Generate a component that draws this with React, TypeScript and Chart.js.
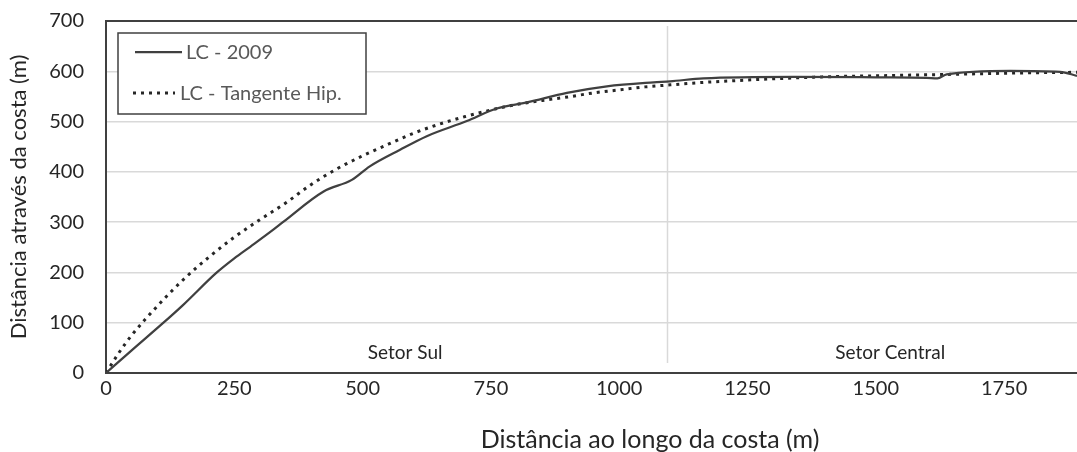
import React, { useEffect, useRef } from "react";
import { Chart, registerables } from "chart.js";

Chart.register(...registerables);

// LC - 2009 (solid)
const solidX = [0, 50, 112, 150, 216, 250, 281, 326, 346, 424, 479, 514, 573, 625, 703, 761, 820, 898, 976, 1067, 1099, 1164, 1340, 1500, 1599, 1620, 1638, 1762, 1859, 1892];
const solidY = [0, 45, 100, 135, 200, 228, 251, 285, 301, 361, 384, 411, 444, 471, 501, 526, 538, 557, 570, 578, 580, 586, 589, 588, 587, 586, 594, 601, 599, 591];

// LC - Tangente Hip. (dotted)
const dotX = [0, 25, 50, 100, 150, 200, 250, 300, 350, 400, 450, 500, 550, 600, 650, 700, 750, 800, 850, 900, 950, 1000, 1050, 1100, 1150, 1200, 1300, 1400, 1500, 1600, 1700, 1800, 1892];
const dotY = [0, 40, 75, 133, 185, 230, 270, 305, 338, 375, 406, 432, 455, 477, 495, 510, 523, 534, 542, 549, 557, 563, 569, 573, 577, 580, 585, 589, 591, 593, 595, 597, 598];

const seriesLabels = ["LC - 2009", "LC - Tangente Hip."];
const sectorNames = ["Setor Sul", "Setor Central"];
const sectorCenters = [583, 1528];
const sectorLabelY = 41;
const dividerX = 1093;
const dividerRange = [20, 690];

const xMin = 0;
const xMax = 1892;
const xStep = 250;
const yMin = 0;
const yMax = 700;
const yStep = 100;

const xTitle = "Distância ao longo da costa (m)";
const xTitleCenter = 1060; // axis value under the title's centre
const yTitle = "Distância através da costa (m)";

const FONT = "Lato, 'Open Sans', sans-serif";

export default function App() {
  const ref = useRef<HTMLCanvasElement | null>(null);

  useEffect(() => {
    document.body.style.margin = "0";
    const canvas = ref.current;
    if (!canvas) return;

    const overlay = {
      id: "overlay",
      beforeDatasetsDraw(chart: any) {
        const { ctx, scales, chartArea } = chart;
        const xs = scales.x;
        const ys = scales.y;
        ctx.save();
        const dx = Math.round(xs.getPixelForValue(dividerX)) + 0.5;
        ctx.strokeStyle = "#d9d9d9";
        ctx.lineWidth = 1.5;
        ctx.beginPath();
        ctx.moveTo(dx, ys.getPixelForValue(dividerRange[1]));
        ctx.lineTo(dx, ys.getPixelForValue(dividerRange[0]));
        ctx.stroke();
        ctx.fillStyle = "#262626";
        ctx.font = `19px ${FONT}`;
        ctx.textAlign = "center";
        ctx.textBaseline = "middle";
        sectorNames.forEach((n, i) => {
          ctx.fillText(n, xs.getPixelForValue(sectorCenters[i]), ys.getPixelForValue(sectorLabelY));
        });
        ctx.strokeStyle = "#404040";
        ctx.lineWidth = 2;
        ctx.beginPath();
        ctx.moveTo(chartArea.left, chartArea.top);
        ctx.lineTo(chartArea.right, chartArea.top);
        ctx.stroke();
        ctx.restore();
      },
      afterDraw(chart: any) {
        const { ctx, scales } = chart;
        ctx.save();
        // x-axis title
        ctx.fillStyle = "#262626";
        ctx.font = `25px ${FONT}`;
        ctx.textAlign = "center";
        ctx.textBaseline = "middle";
        ctx.fillText(xTitle, scales.x.getPixelForValue(xTitleCenter), scales.x.bottom - 12);
        // legend
        const bx = 118, by = 33, bw = 248, bh = 81;
        ctx.fillStyle = "#ffffff";
        ctx.fillRect(bx, by, bw, bh);
        ctx.strokeStyle = "#404040";
        ctx.lineWidth = 1.5;
        ctx.strokeRect(bx, by, bw, bh);
        ctx.strokeStyle = "#404040";
        ctx.lineWidth = 2.25;
        ctx.setLineDash([]);
        ctx.beginPath();
        ctx.moveTo(135, 52);
        ctx.lineTo(182, 52);
        ctx.stroke();
        ctx.strokeStyle = "#262626";
        ctx.lineWidth = 3;
        ctx.setLineDash([3, 5]);
        ctx.beginPath();
        ctx.moveTo(133, 93);
        ctx.lineTo(175, 93);
        ctx.stroke();
        ctx.setLineDash([]);
        ctx.fillStyle = "#595959";
        ctx.font = `20px ${FONT}`;
        ctx.textAlign = "left";
        ctx.textBaseline = "middle";
        ctx.fillText(seriesLabels[0], 186, 53);
        ctx.fillText(seriesLabels[1], 180, 94);
        ctx.restore();
      },
    };

    const chart = new Chart(canvas, {
      type: "line",
      data: {
        datasets: [
          {
            label: seriesLabels[0],
            data: solidX.map((x, i) => ({ x, y: solidY[i] })),
            borderColor: "#404040",
            borderWidth: 2.25,
            pointRadius: 0,
            cubicInterpolationMode: "monotone",
            fill: false,
          },
          {
            label: seriesLabels[1],
            data: dotX.map((x, i) => ({ x, y: dotY[i] })),
            borderColor: "#262626",
            borderWidth: 3,
            borderDash: [3, 5],
            pointRadius: 0,
            cubicInterpolationMode: "monotone",
            fill: false,
          },
        ],
      },
      options: {
        animation: false,
        responsive: false,
        maintainAspectRatio: false,
        layout: { padding: { top: 21, right: 0, bottom: 0, left: 0 } },
        plugins: {
          legend: { display: false },
          tooltip: { enabled: false },
        },
        scales: {
          x: {
            type: "linear",
            min: xMin,
            max: xMax,
            grid: { display: false, drawTicks: false },
            border: { display: true, color: "#404040", width: 2 },
            ticks: {
              stepSize: xStep,
              includeBounds: false,
              padding: 4,
              color: "#262626",
              font: { family: FONT, size: 20 },
              maxRotation: 0,
              callback: (v: any) => String(v),
            },
            title: { display: false, text: xTitle },
            afterFit(scale: any) {
              scale.height = 79;
              scale.paddingLeft = 0;
              scale.paddingRight = 0;
            },
          },
          y: {
            type: "linear",
            min: yMin,
            max: yMax,
            grid: { color: "#d9d9d9", lineWidth: 1.5, drawTicks: false },
            border: { display: true, color: "#404040", width: 2 },
            ticks: {
              stepSize: yStep,
              padding: 22,
              color: "#262626",
              font: { family: FONT, size: 20 },
            },
            title: {
              display: true,
              text: yTitle,
              color: "#262626",
              font: { family: FONT, size: 22 },
              padding: { top: 6, bottom: 0 },
            },
            afterFit(scale: any) {
              scale.width = 106;
              scale.paddingTop = 0;
              scale.paddingBottom = 0;
            },
          },
        },
      },
      plugins: [overlay],
    });

    return () => chart.destroy();
  }, []);

  return (
    <div style={{ width: 1077, height: 452 }}>
      <canvas ref={ref} width={1077} height={452} style={{ display: "block" }} />
    </div>
  );
}
